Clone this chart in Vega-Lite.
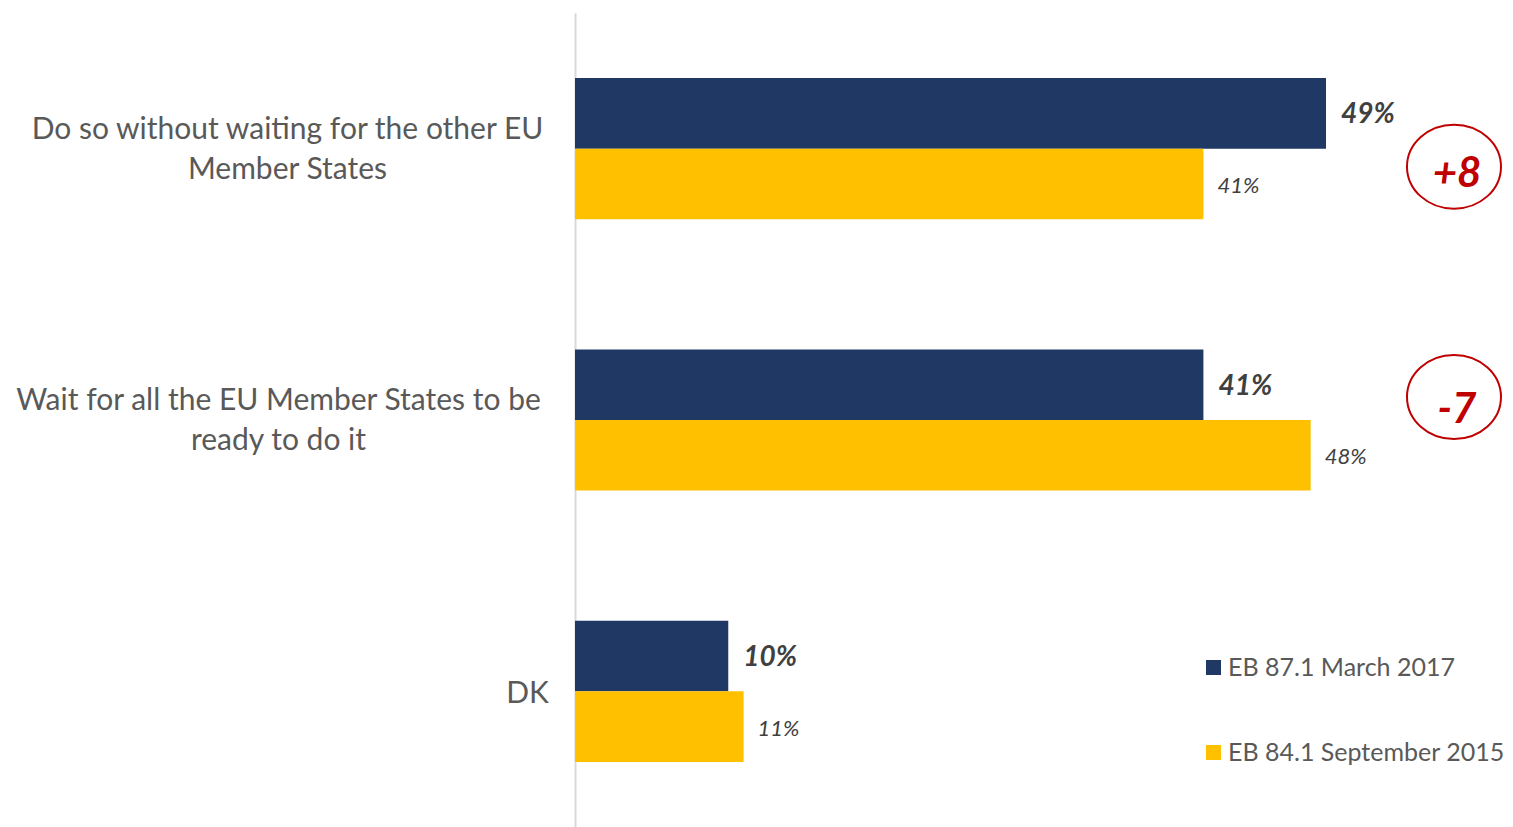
{
  "$schema": "https://vega.github.io/schema/vega-lite/v6.json",
  "width": 938,
  "height": 814,
  "autosize": {"type": "none"},
  "padding": {"left": 575, "top": 13, "right": 0, "bottom": 0},
  "background": "white",
  "config": {"view": {"stroke": null}, "font": "Lato"},
  "datasets": {
    "bars": [
      {"category": "Do so without waiting for the other EU Member States", "series": "EB 87.1 March 2017", "value": 49, "label": "49%"},
      {"category": "Do so without waiting for the other EU Member States", "series": "EB 84.1 September 2015", "value": 41, "label": "41%"},
      {"category": "Wait for all the EU Member States to be ready to do it", "series": "EB 87.1 March 2017", "value": 41, "label": "41%"},
      {"category": "Wait for all the EU Member States to be ready to do it", "series": "EB 84.1 September 2015", "value": 48, "label": "48%"},
      {"category": "DK", "series": "EB 87.1 March 2017", "value": 10, "label": "10%"},
      {"category": "DK", "series": "EB 84.1 September 2015", "value": 11, "label": "11%"}
    ],
    "diffs": [
      {"category": "Do so without waiting for the other EU Member States", "diff": "+8"},
      {"category": "Wait for all the EU Member States to be ready to do it", "diff": "-7"}
    ]
  },
  "encoding": {
    "y": {
      "field": "category",
      "type": "nominal",
      "sort": null,
      "scale": {
        "domain": ["Do so without waiting for the other EU Member States", "Wait for all the EU Member States to be ready to do it", "DK"],
        "paddingInner": 0.48,
        "paddingOuter": 0.24
      },
      "axis": {
        "title": null,
        "ticks": false,
        "domainColor": "#d9d9d9",
        "domainWidth": 2,
        "labelFont": "Lato",
        "labelFontSize": 30,
        "labelColor": "#595959",
        "labelLineHeight": 40,
        "labelAlign": "center",
        "labelBaseline": "middle",
        "labelLimit": 700,
        "labelPadding": {
          "condition": [
            {"test": "datum.value == 'DK'", "value": 48},
            {"test": "indexof(datum.value, 'Wait') == 0", "value": 297}
          ],
          "value": 288
        },
        "labelOffset": {
          "condition": [
            {"test": "datum.value == 'DK'", "value": 3}
          ],
          "value": -19
        },
        "labelExpr": "datum.value == 'Do so without waiting for the other EU Member States' ? ['Do so without waiting for the other EU', 'Member States'] : (datum.value == 'Wait for all the EU Member States to be ready to do it' ? ['Wait for all the EU Member States to be', 'ready to do it'] : datum.value)"
      }
    }
  },
  "layer": [
    {
      "data": {"name": "bars"},
      "mark": {"type": "bar"},
      "encoding": {
        "x": {"field": "value", "type": "quantitative", "scale": {"domain": [0, 61.2], "nice": false, "zero": true}, "axis": null},
        "yOffset": {
          "field": "series",
          "type": "nominal",
          "scale": {"domain": ["EB 87.1 March 2017", "EB 84.1 September 2015"], "paddingInner": 0, "paddingOuter": 0}
        },
        "color": {
          "field": "series",
          "type": "nominal",
          "scale": {"domain": ["EB 87.1 March 2017", "EB 84.1 September 2015"], "range": ["#203864", "#FFC000"]},
          "legend": {
            "title": null,
            "orient": "none",
            "legendX": 626,
            "legendY": 642,
            "symbolType": "square",
            "symbolSize": 225,
            "symbolStrokeWidth": 0,
            "labelFont": "Lato",
            "labelFontSize": 25,
            "labelColor": "#595959",
            "labelOffset": 2,
            "labelLimit": 400,
            "rowPadding": 59,
            "padding": 0
          }
        }
      }
    },
    {
      "data": {"name": "bars"},
      "transform": [{"filter": "datum.series == 'EB 87.1 March 2017'"}],
      "mark": {"type": "text", "align": "left", "baseline": "middle", "dx": 15, "dy": 2, "font": "Lato", "fontSize": 28, "fontWeight": "bold", "fontStyle": "italic", "color": "#404040"},
      "encoding": {
        "x": {"field": "value", "type": "quantitative"},
        "yOffset": {"field": "series", "type": "nominal"},
        "text": {"field": "label"}
      }
    },
    {
      "data": {"name": "bars"},
      "transform": [{"filter": "datum.series == 'EB 84.1 September 2015'"}],
      "mark": {"type": "text", "align": "left", "baseline": "middle", "dx": 14, "dy": 2, "font": "Lato", "fontSize": 22, "fontStyle": "italic", "color": "#404040"},
      "encoding": {
        "x": {"field": "value", "type": "quantitative"},
        "yOffset": {"field": "series", "type": "nominal"},
        "text": {"field": "label"}
      }
    },
    {
      "data": {"name": "diffs"},
      "transform": [{"filter": "datum.diff == '+8'"}],
      "layer": [
        {
          "mark": {"type": "point", "shape": "M -1 0 A 1 0.894 0 1 0 1 0 A 1 0.894 0 1 0 -1 0 Z", "size": 8836, "filled": false, "stroke": "#c00000", "strokeWidth": 2, "opacity": 1, "yOffset": 18},
          "encoding": {"x": {"datum": 57.35, "type": "quantitative"}}
        },
        {
          "mark": {"type": "text", "align": "center", "baseline": "middle", "dy": 25, "dx": 3, "font": "Lato", "fontSize": 42, "fontWeight": "bold", "fontStyle": "italic", "color": "#c00000"},
          "encoding": {"x": {"datum": 57.35, "type": "quantitative"}, "text": {"field": "diff"}}
        }
      ]
    },
    {
      "data": {"name": "diffs"},
      "transform": [{"filter": "datum.diff == '-7'"}],
      "layer": [
        {
          "mark": {"type": "point", "shape": "M -1 0 A 1 0.894 0 1 0 1 0 A 1 0.894 0 1 0 -1 0 Z", "size": 8836, "filled": false, "stroke": "#c00000", "strokeWidth": 2, "opacity": 1, "yOffset": -23},
          "encoding": {"x": {"datum": 57.35, "type": "quantitative"}}
        },
        {
          "mark": {"type": "text", "align": "center", "baseline": "middle", "dy": -10, "dx": 3, "font": "Lato", "fontSize": 42, "fontWeight": "bold", "fontStyle": "italic", "color": "#c00000"},
          "encoding": {"x": {"datum": 57.35, "type": "quantitative"}, "text": {"field": "diff"}}
        }
      ]
    }
  ]
}
